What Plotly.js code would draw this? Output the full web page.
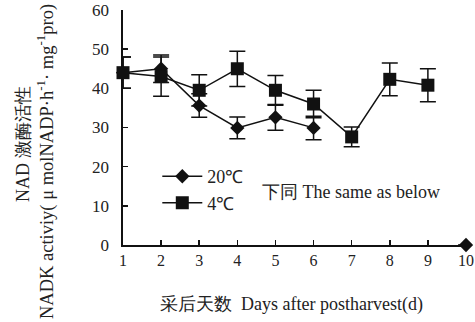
<!DOCTYPE html>
<html><head><meta charset="utf-8">
<script src="https://cdn.plot.ly/plotly-3.0.1.min.js"></script>
<style>body{margin:0;background:#fff}#c{width:475px;height:322px}</style>
</head><body><div id="c"></div>
<script>
const days = [1,2,3,4,5,6,7,8,9,10];
const t20 = [44,45,35.6,29.9,32.6,29.9,null,null,null,0];
const t20err = [4,3.5,3,2.8,3.3,3,null,null,null,0];
const t4 = [44,43,39.5,45,39.5,36,27.6,42.3,40.8,null];
const t4err = [4,5,4,4.5,3.8,3.5,2.5,4.2,4.2,null];
const xTicks = ['1','2','3','4','5','6','7','8','9','10'];
const yTicks = [0,10,20,30,40,50,60];

const font = {family:'"Liberation Serif","Times New Roman",serif', color:'#222'};
const traces = [
  {x:days, y:t20, name:'20℃', mode:'lines+markers', connectgaps:false, cliponaxis:false,
   line:{color:'#111',width:1.5}, marker:{symbol:'diamond',size:11,color:'#111'},
   error_y:{type:'data',array:t20err,visible:true,color:'#111',thickness:1.5,width:8}},
  {x:days, y:t4, name:'4℃', mode:'lines+markers', connectgaps:false, cliponaxis:false,
   line:{color:'#111',width:1.5}, marker:{symbol:'square',size:13,color:'#111'},
   error_y:{type:'data',array:t4err,visible:true,color:'#111',thickness:1.5,width:8}}
];
const layout = {
  width:475, height:322, margin:{l:123,r:9,t:10,b:77},
  paper_bgcolor:'#fff', plot_bgcolor:'#fff',
  font:Object.assign({size:16},font),
  showlegend:true,
  legend:{x:0.1, y:0.37, xanchor:'left', yanchor:'top', bgcolor:'rgba(0,0,0,0)',
          font:Object.assign({size:18},font), itemwidth:40, tracegroupgap:0},
  xaxis:{range:[1,10], tickvals:days, ticktext:xTicks, showgrid:false, zeroline:false,
         showline:true, linecolor:'#111', linewidth:2, ticks:'inside', ticklen:5, tickwidth:1.5,
         tickcolor:'#111', tickfont:Object.assign({size:16},font)},
  yaxis:{range:[0,60], tickvals:yTicks, ticktext:yTicks.map(v=>v+'\u00a0\u00a0'), showgrid:false, zeroline:false,
         showline:true, linecolor:'#111', linewidth:2, ticks:'inside', ticklen:5, tickwidth:1.5,
         tickcolor:'#111', tickfont:Object.assign({size:17},font)},
  annotations:[
    {xref:'paper',yref:'paper',x:0.4,y:0.226,xanchor:'left',yanchor:'middle',
     text:'下同 The same as below',showarrow:false,font:Object.assign({size:18},font)},
    {xref:'paper',yref:'paper',x:0.49,y:-0.255,xanchor:'center',yanchor:'middle',
     text:'采后天数&nbsp;&nbsp;Days after postharvest(d)',showarrow:false,font:Object.assign({size:18},font)},
    {xref:'paper',yref:'paper',x:-0.2915,y:0.43,xanchor:'center',yanchor:'middle',textangle:-90,
     text:'NAD 激酶活性',showarrow:false,font:Object.assign({size:18},font)},
    {xref:'paper',yref:'paper',x:-0.2274,y:0.353,xanchor:'center',yanchor:'middle',textangle:-90,
     text:'NADK activiy( μ molNADP·h<sup>-1</sup>· mg<sup>-1</sup>pro)',showarrow:false,font:Object.assign({size:18.5},font)}
  ]
};
Plotly.newPlot('c', traces, layout, {displayModeBar:false, staticPlot:true});
</script></body></html>
